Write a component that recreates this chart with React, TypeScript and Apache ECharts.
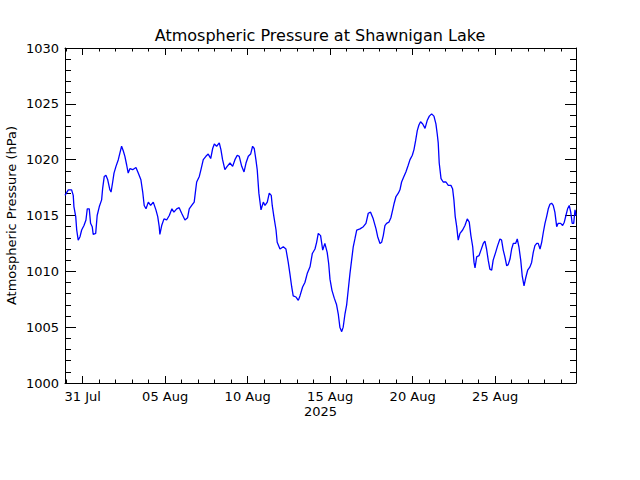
import React, { useEffect, useRef } from "react";
import * as echarts from "echarts";

// Days since 2025-07-31 00:00
const dayOffsets = [
  -1.07, -0.87, -0.67, -0.57, -0.53, -0.42, -0.36, -0.27, -0.16, -0.06,
  0.08, 0.2, 0.28, 0.4, 0.48, 0.58, 0.64, 0.79, 0.88, 1.01,
  1.15, 1.21, 1.31, 1.41, 1.52, 1.65, 1.72, 1.82, 1.9, 2.02,
  2.16, 2.26, 2.36, 2.46, 2.56, 2.67, 2.76, 2.87, 3.03, 3.23,
  3.37, 3.53, 3.64, 3.73, 3.84, 3.98, 4.12, 4.28, 4.44, 4.55,
  4.64, 4.68, 4.79, 4.93, 5.09, 5.25, 5.41, 5.53, 5.7, 5.85,
  6.0, 6.2, 6.36, 6.46, 6.61, 6.76, 6.85, 6.91, 7.07, 7.17,
  7.31, 7.47, 7.61, 7.76, 7.88, 7.98, 8.12, 8.28, 8.38, 8.48,
  8.62, 8.76, 8.93, 9.09, 9.23, 9.37, 9.49, 9.64, 9.78, 9.9,
  10.04, 10.18, 10.3, 10.4, 10.5, 10.58, 10.68, 10.81, 10.95, 11.05,
  11.19, 11.31, 11.43, 11.49, 11.59, 11.72, 11.79, 11.96, 12.16, 12.32,
  12.46, 12.56, 12.67, 12.76, 12.93, 13.07, 13.17, 13.33, 13.47, 13.61,
  13.78, 13.92, 14.08, 14.18, 14.28, 14.42, 14.55, 14.68, 14.82, 14.91,
  14.99, 15.11, 15.25, 15.39, 15.49, 15.59, 15.7, 15.79, 15.9, 16.0,
  16.1, 16.2, 16.3, 16.4, 16.5, 16.61, 16.81, 17.01, 17.17, 17.31,
  17.45, 17.61, 17.78, 17.88, 18.02, 18.12, 18.22, 18.32, 18.42, 18.56,
  18.68, 18.79, 18.88, 18.99, 19.13, 19.23, 19.33, 19.47, 19.59, 19.73,
  19.84, 19.98, 20.08, 20.18, 20.28, 20.38, 20.48, 20.61, 20.75, 20.88,
  21.01, 21.15, 21.29, 21.41, 21.49, 21.55, 21.61, 21.72, 21.85, 22.02,
  22.16, 22.32, 22.42, 22.5, 22.58, 22.67, 22.76, 22.87, 23.03, 23.17,
  23.31, 23.43, 23.53, 23.64, 23.72, 23.78, 23.88, 24.02, 24.14, 24.28,
  24.38, 24.48, 24.58, 24.68, 24.79, 24.88, 25.03, 25.15, 25.29, 25.39,
  25.49, 25.59, 25.7, 25.79, 25.9, 26.0, 26.1, 26.24, 26.34, 26.44,
  26.55, 26.64, 26.75, 26.85, 26.97, 27.11, 27.21, 27.31, 27.41, 27.52,
  27.61, 27.72, 27.82, 27.92, 28.02, 28.12, 28.22, 28.32, 28.42, 28.52,
  28.62, 28.73, 28.82, 28.97, 29.09, 29.19, 29.29, 29.39, 29.49, 29.58,
  29.67, 29.76, 29.84, 29.9,
];

const pressure = [
  1016.8, 1017.3, 1017.3, 1016.8, 1015.8, 1014.9, 1013.7, 1012.8, 1013.1, 1013.7,
  1014.1, 1014.6, 1015.6, 1015.6, 1014.3, 1014.0, 1013.3, 1013.4, 1015.0, 1015.8,
  1016.4, 1017.4, 1018.5, 1018.6, 1018.2, 1017.3, 1017.1, 1018.0, 1018.8, 1019.4,
  1020.0, 1020.6, 1021.2, 1020.8, 1020.3, 1019.5, 1018.8, 1019.2, 1019.1, 1019.3,
  1018.8, 1018.2, 1017.1, 1015.9, 1015.6, 1016.2, 1015.9, 1016.2, 1015.5, 1014.9,
  1014.0, 1013.3, 1014.1, 1014.7, 1014.6, 1015.0, 1015.6, 1015.3, 1015.6, 1015.7,
  1015.2, 1014.6, 1014.8, 1015.6, 1015.9, 1016.2, 1017.3, 1018.0, 1018.5, 1019.1,
  1020.0, 1020.3, 1020.5, 1020.1, 1021.0, 1021.4, 1021.2, 1021.5, 1020.9, 1020.0,
  1019.1, 1019.4, 1019.7, 1019.4, 1020.0, 1020.4, 1020.3, 1019.4, 1018.9, 1019.7,
  1020.3, 1020.5, 1021.2, 1021.0, 1020.0, 1019.1, 1017.0, 1015.5, 1016.2, 1015.9,
  1016.2, 1017.0, 1016.8, 1015.9, 1014.9, 1013.7, 1012.6, 1012.0, 1012.2, 1012.0,
  1010.8, 1009.8, 1008.6, 1007.8, 1007.7, 1007.4, 1007.8, 1008.6, 1009.0, 1009.8,
  1010.4, 1011.6, 1012.0, 1012.6, 1013.4, 1013.2, 1011.9, 1012.5, 1011.7, 1010.7,
  1009.3, 1008.3, 1007.6, 1007.0, 1006.2, 1005.0, 1004.6, 1005.0, 1006.2, 1007.0,
  1008.4, 1009.8, 1011.0, 1012.2, 1012.9, 1013.7, 1013.8, 1014.0, 1014.3, 1015.2,
  1015.3, 1014.7, 1013.8, 1013.1, 1012.5, 1012.6, 1013.2, 1014.1, 1014.3, 1014.4,
  1014.8, 1015.5, 1016.1, 1016.7, 1017.0, 1017.3, 1018.0, 1018.5, 1018.9, 1019.5,
  1020.0, 1020.4, 1020.9, 1021.7, 1022.6, 1023.1, 1023.4, 1023.2, 1022.8, 1023.5,
  1023.9, 1024.1, 1023.9, 1023.2, 1022.3, 1021.5, 1019.7, 1018.3, 1018.0, 1018.0,
  1017.7, 1017.7, 1017.4, 1016.4, 1014.9, 1014.0, 1012.8, 1013.4, 1013.7, 1014.1,
  1014.7, 1014.4, 1013.2, 1012.2, 1010.8, 1010.3, 1011.3, 1011.4, 1011.9, 1012.5,
  1012.7, 1012.0, 1011.0, 1010.2, 1010.1, 1011.0, 1011.7, 1012.3, 1012.9, 1012.8,
  1011.9, 1011.3, 1010.5, 1010.6, 1011.1, 1012.0, 1012.5, 1012.5, 1012.9, 1012.2,
  1011.0, 1009.6, 1008.7, 1009.4, 1010.1, 1010.4, 1010.8, 1011.7, 1012.3, 1012.5,
  1012.5, 1012.0, 1012.6, 1013.5, 1014.3, 1014.9, 1015.6, 1016.0, 1016.1, 1015.9,
  1015.3, 1014.0, 1014.3, 1014.3, 1014.1, 1014.4, 1015.0, 1015.6, 1015.9, 1015.3,
  1014.3, 1014.3, 1015.5, 1015.0,
];

const majorTickDays = [0, 5, 10, 15, 20, 25];
const majorTickLabels = ["31 Jul", "05 Aug", "10 Aug", "15 Aug", "20 Aug", "25 Aug"];
const minorTickDays = [
  -1, 0, 1, 2, 3, 4, 5, 6, 7, 8, 9, 10, 11, 12, 13, 14, 15,
  16, 17, 18, 19, 20, 21, 22, 23, 24, 25, 26, 27, 28, 29,
];
const yearLabel = "2025";
const titleText = "Atmospheric Pressure at Shawnigan Lake";
const yAxisName = "Atmospheric Pressure (hPa)";
const xMin = -1.07;
const xMax = 29.9;
const yMin = 1000;
const yMax = 1030;
const yStep = 5;

const FONT = "DejaVu Sans";

export default function App() {
  const ref = useRef<HTMLDivElement>(null);

  useEffect(() => {
    document.body.style.margin = "0";
    if (!ref.current) return;
    const chart = echarts.init(ref.current, undefined, { renderer: "svg" });

    const black = "#000";
    const xBase = (position: string, withLine: boolean, ticks: number[], len: number) => ({
      type: "value",
      min: xMin,
      max: xMax,
      position,
      axisLine: { show: withLine, onZero: false, lineStyle: { color: black, width: 1 } },
      axisTick: { show: true, inside: true, length: len, customValues: ticks, lineStyle: { color: black, width: 1 } },
      axisLabel: { show: false },
      splitLine: { show: false },
    });

    const bottomMajor: any = xBase("bottom", true, majorTickDays, 7);
    bottomMajor.axisLabel = {
      show: true,
      customValues: majorTickDays,
      formatter: (v: number) => {
        const i = majorTickDays.findIndex((d) => Math.abs(d - v) < 1e-6);
        return i >= 0 ? majorTickLabels[i] : "";
      },
      color: black,
      fontFamily: FONT,
      fontSize: 13,
      margin: 7,
    };
    bottomMajor.name = yearLabel;
    bottomMajor.nameLocation = "middle";
    bottomMajor.nameGap = 22;
    bottomMajor.nameMoveOverlap = false;
    bottomMajor.nameTextStyle = { color: black, fontFamily: FONT, fontSize: 13 };

    const yBase = (position: string) => ({
      type: "value",
      min: yMin,
      max: yMax,
      interval: yStep,
      position,
      axisLine: { show: true, onZero: false, lineStyle: { color: black, width: 1 } },
      axisTick: { show: true, inside: true, length: 11, lineStyle: { color: black, width: 1 } },
      minorTick: { show: true, splitNumber: 5, length: 6, lineStyle: { color: black, width: 1 } },
      axisLabel: { show: false },
      splitLine: { show: false },
      minorSplitLine: { show: false },
    });

    const left: any = yBase("left");
    left.axisLabel = {
      show: true,
      color: black,
      fontFamily: FONT,
      fontSize: 13,
      margin: 6,
      formatter: (v: number) => String(v),
    };
    left.name = yAxisName;
    left.nameLocation = "middle";
    left.nameGap = 47;
    left.nameRotate = 90;
    left.nameMoveOverlap = false;
    left.nameTextStyle = { color: black, fontFamily: FONT, fontSize: 13 };

    const right: any = yBase("right");

    chart.setOption({
      animation: false,
      backgroundColor: "#fff",
      title: {
        text: titleText,
        left: "center",
        top: 22,
        textStyle: { color: black, fontFamily: FONT, fontSize: 16, fontWeight: "normal" },
      },
      grid: { left: 65, right: 64, top: 48, bottom: 97, containLabel: false, outerBoundsMode: "none" },
      xAxis: [
        bottomMajor,
        xBase("bottom", false, minorTickDays, 3.5),
        xBase("top", true, majorTickDays, 7),
        xBase("top", false, minorTickDays, 3.5),
      ],
      yAxis: [left, right],
      series: [
        {
          type: "line",
          xAxisIndex: 0,
          yAxisIndex: 0,
          data: dayOffsets.map((d, i) => [d, pressure[i]]),
          showSymbol: false,
          symbol: "none",
          silent: true,
          lineStyle: { color: "#0000ff", width: 1.3 },
          clip: true,
        },
      ],
    } as any);

    return () => chart.dispose();
  }, []);

  return <div ref={ref} style={{ width: 640, height: 480 }} />;
}
